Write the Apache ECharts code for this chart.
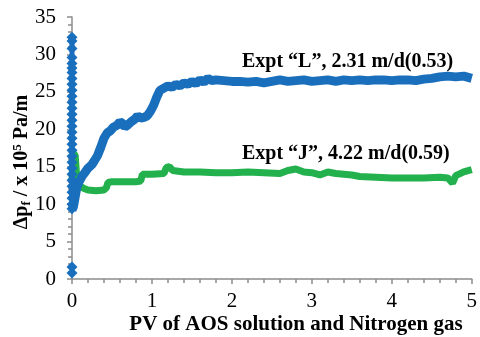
<!DOCTYPE html>
<html><head><meta charset="utf-8">
<script src="https://cdn.jsdelivr.net/npm/echarts@6/dist/echarts.min.js"></script>
<style>html,body{margin:0;padding:0;background:#fff}#c{width:480px;height:337px}</style>
</head><body><div id="c"></div>
<script>
// Blue "L": vertical stack of points recorded at PV = 0
var seriesL_start = [32.3,31.8,30.8,29.6,28.8,28.2,27.6,26.8,26.0,25.2,24.4,23.6,22.8,22.0,21.2,20.4,19.6,18.8,18.0,17.2,16.4,15.6,14.8,14.0,13.2,12.4,11.6,10.8,10.0,9.4];
var seriesL_low = [1.6,0.8];
// Blue "L" curve [PV, dp]
var seriesL = [[0.00,9.2],[0.02,9.8],[0.04,11.0],[0.06,12.2],[0.08,12.8],[0.10,13.2],[0.13,13.8],[0.16,14.2],[0.20,14.8],[0.25,15.3],[0.28,15.8],[0.32,16.5],[0.36,17.6],[0.40,18.8],[0.44,19.5],[0.48,19.8],[0.52,20.3],[0.56,20.5],[0.60,21.0],[0.63,20.8],[0.66,20.3],[0.70,20.6],[0.74,21.0],[0.78,21.3],[0.82,21.8],[0.86,21.5],[0.90,21.6],[0.94,21.8],[0.98,22.4],[1.02,23.2],[1.06,24.3],[1.10,25.2],[1.15,25.5],[1.20,25.8],[1.25,25.6],[1.30,26.0],[1.35,25.8],[1.40,26.2],[1.45,26.0],[1.50,26.4],[1.55,26.1],[1.60,26.6],[1.65,26.3],[1.70,26.8],[1.75,26.5],[1.80,26.6],[1.90,26.5],[2.00,26.4],[2.10,26.4],[2.20,26.3],[2.30,26.4],[2.40,26.2],[2.50,26.4],[2.60,26.6],[2.70,26.4],[2.80,26.5],[2.90,26.6],[3.00,26.4],[3.10,26.5],[3.20,26.6],[3.30,26.4],[3.40,26.6],[3.50,26.5],[3.60,26.6],[3.70,26.5],[3.80,26.6],[3.90,26.6],[4.00,26.5],[4.10,26.6],[4.20,26.6],[4.30,26.5],[4.40,26.7],[4.50,26.8],[4.60,27.0],[4.70,27.1],[4.80,27.0],[4.90,27.1],[5.00,26.8]];
// Green "J" curve [PV, dp]
var seriesJ = [[0.00,13.2],[0.01,15.5],[0.02,16.8],[0.04,16.5],[0.05,15.0],[0.06,13.5],[0.08,12.8],[0.10,12.4],[0.15,12.1],[0.20,11.9],[0.30,11.8],[0.40,11.9],[0.43,12.2],[0.45,12.9],[0.50,13.0],[0.60,13.0],[0.70,13.0],[0.80,13.0],[0.86,13.1],[0.88,14.0],[1.00,14.0],[1.15,14.1],[1.18,14.9],[1.22,15.0],[1.26,14.5],[1.40,14.3],[1.60,14.3],[1.80,14.2],[2.00,14.2],[2.20,14.3],[2.40,14.2],[2.60,14.1],[2.70,14.5],[2.80,14.7],[2.90,14.3],[3.00,14.2],[3.10,13.9],[3.20,14.3],[3.30,14.1],[3.40,14.0],[3.50,13.9],[3.60,13.7],[3.80,13.6],[4.00,13.5],[4.20,13.5],[4.40,13.5],[4.60,13.6],[4.70,13.5],[4.76,12.8],[4.80,13.8],[4.90,14.3],[5.00,14.6]];
var labelL = 'Expt \u201cL\u201d, 2.31 m/d(0.53)';
var labelJ = 'Expt \u201cJ\u201d, 4.22 m/d(0.59)';
var xTitle = 'PV of AOS solution and Nitrogen gas';

var BLUE = '#1a6fbd', GREEN = '#22b14c', AX = '#8c8c8c';
var FONT = '"Liberation Serif", "Times New Roman", serif';
var chart = echarts.init(document.getElementById('c'));
chart.setOption({
  animation: false,
  grid: {left: 72, right: 4, top: 17, bottom: 58},
  xAxis: {type: 'value', min: 0, max: 5, interval: 1,
    axisLine: {lineStyle: {color: AX, width: 1.5}},
    axisTick: {show: true, length: 5, lineStyle: {color: AX, width: 1.5}},
    minorTick: {show: true, splitNumber: 5, length: 4, lineStyle: {color: AX, width: 1.5}},
    splitLine: {show: false},
    axisLabel: {color: '#000', fontFamily: FONT, fontSize: 21, margin: 12}},
  yAxis: {type: 'value', min: 0, max: 35, interval: 5,
    axisLine: {show: true, lineStyle: {color: AX, width: 1.5}},
    axisTick: {show: true, length: 5, lineStyle: {color: AX, width: 1.5}},
    minorTick: {show: true, splitNumber: 5, length: 4, lineStyle: {color: AX, width: 1.5}},
    splitLine: {show: false},
    axisLabel: {color: '#000', fontFamily: FONT, fontSize: 21, margin: 16}},
  series: [
    {type: 'line', data: seriesJ, showSymbol: false, symbol: 'none', lineStyle: {color: GREEN, width: 7}, z: 2},
    {type: 'line', data: seriesL, showSymbol: false, symbol: 'none', lineStyle: {color: BLUE, width: 9}, z: 3},
    {type: 'line', data: seriesL_start.map(function(v){return [0, v];}), symbol: 'diamond', symbolSize: 11, itemStyle: {color: BLUE, opacity: 1}, lineStyle: {color: BLUE, width: 5}, z: 4},
    {type: 'scatter', data: seriesL_low.map(function(v){return [0, v];}), symbol: 'diamond', symbolSize: 11, itemStyle: {color: BLUE, opacity: 1}, z: 4}
  ],
  graphic: [
    {type: 'text', left: 242, top: 52, style: {text: labelL, font: 'bold 20px ' + FONT, fill: '#000'}},
    {type: 'text', left: 242, top: 144, style: {text: labelJ, font: 'bold 20px ' + FONT, fill: '#000'}},
    {type: 'text', x: 296, y: 325, style: {text: xTitle, font: 'bold 21px ' + FONT, fill: '#000', align: 'center', verticalAlign: 'middle'}},
    {type: 'text', x: 22, y: 162, rotation: Math.PI / 2,
      style: {text: '{b|\u0394p}{s|f}{b| / x 10}{p|5}{b| Pa/m}', align: 'center', verticalAlign: 'middle',
        rich: {b: {font: 'bold 20px ' + FONT, fill: '#000'}, s: {font: 'bold 13px ' + FONT, fill: '#000', padding: [9, 0, 0, 0]}, p: {font: 'bold 13px ' + FONT, fill: '#000', padding: [0, 0, 9, 0]}}}}
  ]
});
</script></body></html>
